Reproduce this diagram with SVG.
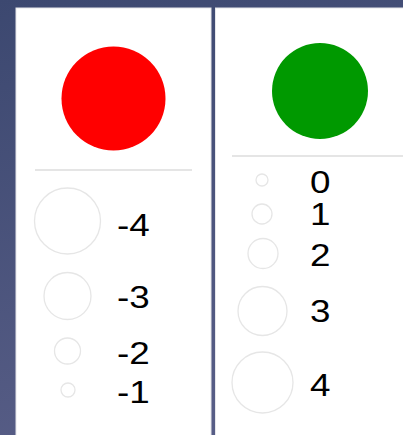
<svg xmlns="http://www.w3.org/2000/svg" width="403" height="435" viewBox="0 0 403 435">
<defs>
<linearGradient id="bg" x1="0" y1="0" x2="0.3" y2="1">
<stop offset="0" stop-color="#3c4870"/>
<stop offset="1" stop-color="#575d86"/>
</linearGradient>
<style>
.panel{fill:#ffffff;stroke:#e6e6ea;stroke-width:1}
.sep{stroke:#dcdcdc;stroke-width:1.5}
.ring{fill:none;stroke:#e6e6e6;stroke-width:1.3}
.lbl{font-family:"Liberation Sans",Arial,sans-serif;font-size:32px;fill:#000000}
</style>
</defs>
<rect width="403" height="435" fill="url(#bg)"/>
<g id="panel-negative">
<rect class="panel" x="16" y="8" width="195" height="430"/>
<circle cx="113.5" cy="98.5" r="52" fill="#ff0000"/>
<line class="sep" x1="35" y1="170" x2="192" y2="170"/>
<g id="neg-4"><circle class="ring" cx="67.5" cy="221" r="33"/><text class="lbl" transform="translate(117 236) scale(1.15 1)">-4</text></g>
<g id="neg-3"><circle class="ring" cx="67.5" cy="296" r="23.5"/><text class="lbl" transform="translate(117 308) scale(1.15 1)">-3</text></g>
<g id="neg-2"><circle class="ring" cx="67.5" cy="351" r="13"/><text class="lbl" transform="translate(117 364) scale(1.15 1)">-2</text></g>
<g id="neg-1"><circle class="ring" cx="68" cy="390" r="7"/><text class="lbl" transform="translate(117 403) scale(1.15 1)">-1</text></g>
</g>
<g id="panel-positive">
<rect class="panel" x="215.5" y="8" width="190" height="430"/>
<circle cx="320" cy="91" r="48" fill="#009900"/>
<line class="sep" x1="232" y1="156" x2="403" y2="156"/>
<g id="pos-0"><circle class="ring" cx="262" cy="180" r="6"/><text class="lbl" transform="translate(310 192.5) scale(1.15 1)">0</text></g>
<g id="pos-1"><circle class="ring" cx="262" cy="214" r="10"/><text class="lbl" transform="translate(310 224.5) scale(1.15 1)">1</text></g>
<g id="pos-2"><circle class="ring" cx="263" cy="253.5" r="15"/><text class="lbl" transform="translate(310 266) scale(1.15 1)">2</text></g>
<g id="pos-3"><circle class="ring" cx="262.5" cy="311" r="24.5"/><text class="lbl" transform="translate(310 322) scale(1.15 1)">3</text></g>
<g id="pos-4"><circle class="ring" cx="262.5" cy="382.5" r="30.5"/><text class="lbl" transform="translate(310 395.5) scale(1.15 1)">4</text></g>
</g>
</svg>
